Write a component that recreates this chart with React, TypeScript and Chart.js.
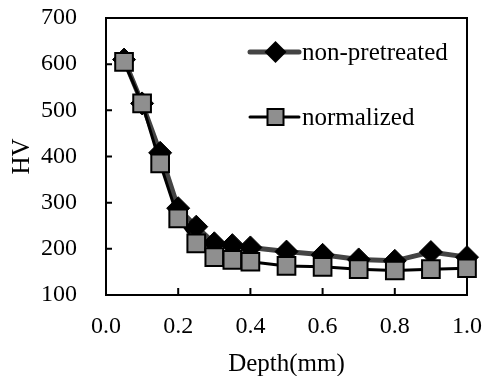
import React, { useEffect, useRef } from 'react';
import { Chart, registerables } from 'chart.js';

Chart.register(...registerables);

const depths = [0.05, 0.1, 0.15, 0.2, 0.25, 0.3, 0.35, 0.4, 0.5, 0.6, 0.7, 0.8, 0.9, 1.0];
const nonPretreated = [610, 515, 408, 288, 248, 212, 208, 203, 194, 187, 177, 174, 193, 182];
const normalized = [605, 515, 385, 266, 212, 182, 176, 172, 163, 161, 156, 153, 156, 158];
const seriesNames = ['non-pretreated', 'normalized'];
const xTickValues = [0, 0.2, 0.4, 0.6, 0.8, 1.0];
const yTickValues = [100, 200, 300, 400, 500, 600, 700];
const xTitle = 'Depth(mm)';
const yTitle = 'HV';

const FONT = "'Liberation Serif', 'Times New Roman', serif";
const LINE_GRAY = '#444444';
const SQUARE_FILL = '#8f8f8f';

const framePlugin = {
  id: 'frameAndTicks',
  beforeDatasetsDraw(chart: any) {
    const { ctx, chartArea } = chart;
    const { left, right, top, bottom } = chartArea;
    const xs = chart.scales.x;
    const ys = chart.scales.y;
    ctx.save();
    ctx.strokeStyle = '#000';
    ctx.lineWidth = 2;
    ctx.strokeRect(left, top, right - left, bottom - top);
    ctx.beginPath();
    for (const v of xTickValues) {
      const px = xs.getPixelForValue(v);
      ctx.moveTo(px, bottom);
      ctx.lineTo(px, bottom - 7);
    }
    for (const v of yTickValues) {
      const py = ys.getPixelForValue(v);
      ctx.moveTo(left, py);
      ctx.lineTo(left + 6, py);
    }
    ctx.stroke();
    ctx.restore();
  },
  afterDraw(chart: any) {
    const { ctx, chartArea } = chart;
    const x0 = chartArea.left + 144;
    const x1 = chartArea.left + 193;
    const xm = (x0 + x1) / 2 + 1;
    const y1 = chartArea.top + 34;
    const y2 = chartArea.top + 99;
    ctx.save();
    ctx.strokeStyle = LINE_GRAY;
    ctx.lineWidth = 5;
    ctx.lineCap = 'round';
    ctx.beginPath();
    ctx.moveTo(x0, y1);
    ctx.lineTo(x1, y1);
    ctx.stroke();
    ctx.fillStyle = '#000';
    ctx.beginPath();
    ctx.moveTo(xm - 11, y1);
    ctx.lineTo(xm, y1 - 11);
    ctx.lineTo(xm + 11, y1);
    ctx.lineTo(xm, y1 + 11);
    ctx.closePath();
    ctx.fill();
    ctx.strokeStyle = '#000';
    ctx.lineWidth = 3;
    ctx.beginPath();
    ctx.moveTo(x0, y2);
    ctx.lineTo(x1, y2);
    ctx.stroke();
    ctx.fillStyle = SQUARE_FILL;
    ctx.lineWidth = 2;
    ctx.fillRect(xm - 8, y2 - 8, 16, 16);
    ctx.strokeRect(xm - 8, y2 - 8, 16, 16);
    ctx.fillStyle = '#000';
    ctx.font = `25px ${FONT}`;
    ctx.textAlign = 'left';
    ctx.textBaseline = 'middle';
    ctx.fillText(seriesNames[0], x1 + 3, y1 + 1);
    ctx.fillText(seriesNames[1], x1 + 3, y2 + 1);
    ctx.restore();
  },
};

export default function App() {
  const ref = useRef<HTMLCanvasElement | null>(null);
  useEffect(() => {
    if (!ref.current) return;
    const chart = new Chart(ref.current, {
      type: 'line',
      data: {
        datasets: [
          {
            label: seriesNames[0],
            data: depths.map((d, i) => ({ x: d, y: nonPretreated[i] })),
            borderColor: LINE_GRAY,
            borderWidth: 5,
            backgroundColor: '#000',
            pointStyle: 'rectRot',
            pointRadius: 11.5,
            pointBackgroundColor: '#000',
            pointBorderColor: '#000',
            pointBorderWidth: 1,
            tension: 0,
            clip: false,
            order: 2,
          },
          {
            label: seriesNames[1],
            data: depths.map((d, i) => ({ x: d, y: normalized[i] })),
            borderColor: '#000',
            borderWidth: 3,
            backgroundColor: SQUARE_FILL,
            pointStyle: 'rect',
            pointRadius: 12.5,
            pointBackgroundColor: SQUARE_FILL,
            pointBorderColor: '#000',
            pointBorderWidth: 2,
            tension: 0,
            clip: false,
            order: 1,
          },
        ],
      },
      options: {
        animation: false,
        responsive: false,
        devicePixelRatio: 1,
        layout: { padding: { left: 0, right: 17, top: 18, bottom: 0 } },
        plugins: { legend: { display: false }, tooltip: { enabled: false } },
        scales: {
          x: {
            type: 'linear',
            min: 0,
            max: 1,
            afterBuildTicks: (scale: any) => {
              scale.ticks = xTickValues.map((v) => ({ value: v }));
            },
            afterFit: (scale: any) => {
              scale.height = 81;
              scale.paddingLeft = 0;
              scale.paddingRight = 0;
              scale.paddingTop = 0;
              scale.paddingBottom = 0;
            },
            grid: { display: false },
            border: { display: false },
            ticks: {
              color: '#000',
              font: { family: FONT, size: 24 },
              padding: 9,
              maxRotation: 0,
              autoSkip: false,
              callback: (v: any) => Number(v).toFixed(1),
            },
            title: {
              display: true,
              text: xTitle,
              color: '#000',
              font: { family: FONT, size: 25 },
              padding: { top: 0, bottom: -3 },
            },
          },
          y: {
            type: 'linear',
            min: 100,
            max: 700,
            afterBuildTicks: (scale: any) => {
              scale.ticks = yTickValues.map((v) => ({ value: v }));
            },
            afterFit: (scale: any) => {
              scale.width = 106;
              scale.paddingLeft = 0;
              scale.paddingRight = 0;
              scale.paddingTop = 0;
              scale.paddingBottom = 0;
            },
            grid: { display: false },
            border: { display: false },
            ticks: {
              color: '#000',
              font: { family: FONT, size: 24 },
              padding: 21,
              autoSkip: false,
            },
            title: {
              display: true,
              text: yTitle,
              color: '#000',
              font: { family: FONT, size: 25 },
              padding: { top: 7, bottom: 0 },
            },
          },
        },
      },
      plugins: [framePlugin],
    } as any);
    return () => chart.destroy();
  }, []);
  return (
    <div style={{ position: 'fixed', left: 0, top: 0, width: 484, height: 376, background: '#fff' }}>
      <canvas ref={ref} width={484} height={376} style={{ width: 484, height: 376, display: 'block' }} />
    </div>
  );
}
